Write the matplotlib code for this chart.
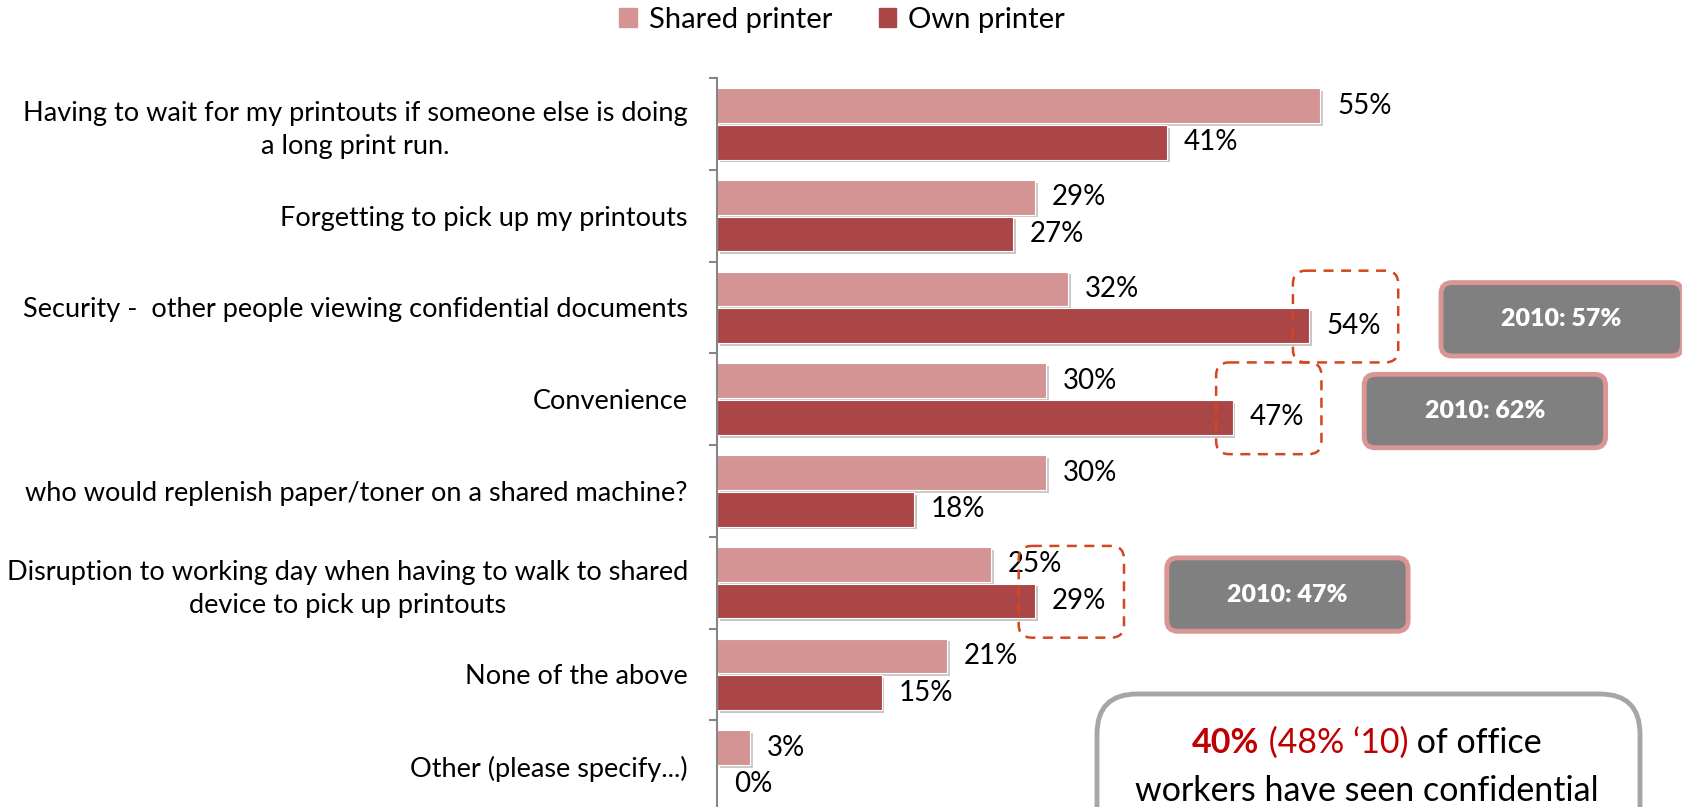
import matplotlib
matplotlib.use("Agg")
import matplotlib.pyplot as plt
import matplotlib.patheffects as pe
from matplotlib.patches import FancyBboxPatch, Patch

plt.rcParams['font.family'] = ['Lato', 'DejaVu Sans']

categories = [
    "Having to wait for my printouts if someone else is doing\na long print run.",
    "Forgetting to pick up my printouts",
    "Security -  other people viewing confidential documents",
    "Convenience",
    "who would replenish paper/toner on a shared machine?",
    "Disruption to working day when having to walk to shared\ndevice to pick up printouts",
    "None of the above",
    "Other (please specify...)",
]
shared = [55, 29, 32, 30, 30, 25, 21, 3]
own = [41, 27, 54, 47, 18, 29, 15, 0]
series_names = ["Shared printer", "Own printer"]

# categories whose own-printer value is compared with 2010
highlight_idx = [2, 3, 5]
own_2010 = [57, 62, 47]

c_shared = "#D49494"
c_own = "#AA4646"
c_dash = "#D4461C"

W, H = 1683, 807
fig = plt.figure(figsize=(W / 100, H / 100), dpi=100)
x0, top, bottom = 717, 78, 812
ax = fig.add_axes([x0 / W, (H - bottom) / H, 1 - x0 / W, (bottom - top) / H])

n = len(categories)
xmax = 88.06
ax.set_xlim(0, xmax)
ax.set_ylim(n - 0.5, -0.5)

ys = list(range(n))
shadow = [pe.SimplePatchShadow(offset=(2, -2), alpha=0.25), pe.Normal()]
ax.barh([y - 0.2 for y in ys], shared, height=0.38, color=c_shared,
        edgecolor="white", linewidth=0.8, path_effects=shadow)
ax.barh([y + 0.2 for y in ys], own, height=0.38, color=c_own,
        edgecolor="white", linewidth=0.8, path_effects=shadow)

fs_cat = 19.5
fs_val = 20
for y, s, o in zip(ys, shared, own):
    ax.annotate(f"{s}%", (s, y - 0.2), xytext=(12, 0), textcoords="offset points",
                va="center", ha="left", fontsize=fs_val)
    ax.annotate(f"{o}%", (o, y + 0.2), xytext=(12, 0), textcoords="offset points",
                va="center", ha="left", fontsize=fs_val)

# axis styling
for s in ["top", "right", "bottom"]:
    ax.spines[s].set_visible(False)
ax.spines["left"].set_color("#868686")
ax.spines["left"].set_linewidth(1.5)
ax.set_xticks([])
ax.set_yticks(ys)
ax.set_yticklabels(categories, fontsize=fs_cat, linespacing=1.4)
for lab in ax.get_yticklabels():
    lab.set_multialignment("center")
ax.tick_params(axis="y", which="major", length=0, pad=21)
ax.set_yticks([y - 0.5 for y in range(n + 1)], minor=True)
ax.tick_params(axis="y", which="minor", length=6, width=1.5, color="#868686")

# aspect to keep rounded corners round in data coords
px_x = (W - x0) / xmax
px_y = (bottom - top) / n
asp = px_x / px_y

for i, v_old in zip(highlight_idx, own_2010):
    v = own[i]
    dash = FancyBboxPatch((v - 1.5, i - 0.5 + 0.1), 9.6, 1.0,
                          boxstyle="round,pad=0,rounding_size=1.2",
                          mutation_aspect=asp, fill=False, ec=c_dash,
                          lw=1.8, ls=(0, (4, 3)), clip_on=False, zorder=4)
    ax.add_patch(dash)
    box = FancyBboxPatch((v + 12, i - 0.5 + 0.23), 22, 0.8,
                         boxstyle="round,pad=0,rounding_size=1.0",
                         mutation_aspect=asp, fc="#808080", ec="#D99694",
                         lw=3.5, clip_on=False, zorder=4)
    ax.add_patch(box)
    ax.text(v + 23, i - 0.5 + 0.63, f"2010: {v_old}%", ha="center", va="center",
            color="white", fontsize=18, fontweight="heavy", zorder=5)

# legend
handles = [Patch(color=c_shared), Patch(color=c_own)]
fig.legend(handles, series_names, loc="center", bbox_to_anchor=(842 / W, 1 - 20 / H),
           ncol=2, frameon=False, fontsize=21, handlelength=0.6, handleheight=0.6,
           handletextpad=0.4, columnspacing=1.6)

# callout box at bottom right
inch = fig.dpi_scale_trans
callout = FancyBboxPatch((1097 / 100, (H - 880) / 100), 543 / 100, 186 / 100,
                         boxstyle="round,pad=0,rounding_size=0.4", fc="white",
                         ec="#A6A6A6", lw=3.5, transform=inch, clip_on=False, zorder=6)
fig.patches.append(callout)

cx = 1367 / W
fsb = 24.5
pieces = [("40%", "#C00000", "bold"), (" (48% \u201810)", "#C00000", "normal"),
          (" of office", "black", "normal")]
texts = [fig.text(0, 1 - 743 / H, p, color=c, fontweight=w, fontsize=fsb,
                  ha="left", va="center", zorder=7) for p, c, w in pieces]
renderer = fig.canvas.get_renderer()
widths = [t.get_window_extent(renderer).width / W for t in texts]
xs = cx - sum(widths) / 2
for t, wd in zip(texts, widths):
    t.set_x(xs)
    xs += wd
fig.text(cx, 1 - 791 / H, "workers have seen confidential", fontsize=fsb,
         ha="center", va="center", zorder=7)

fig.savefig("out.png", dpi=100)
